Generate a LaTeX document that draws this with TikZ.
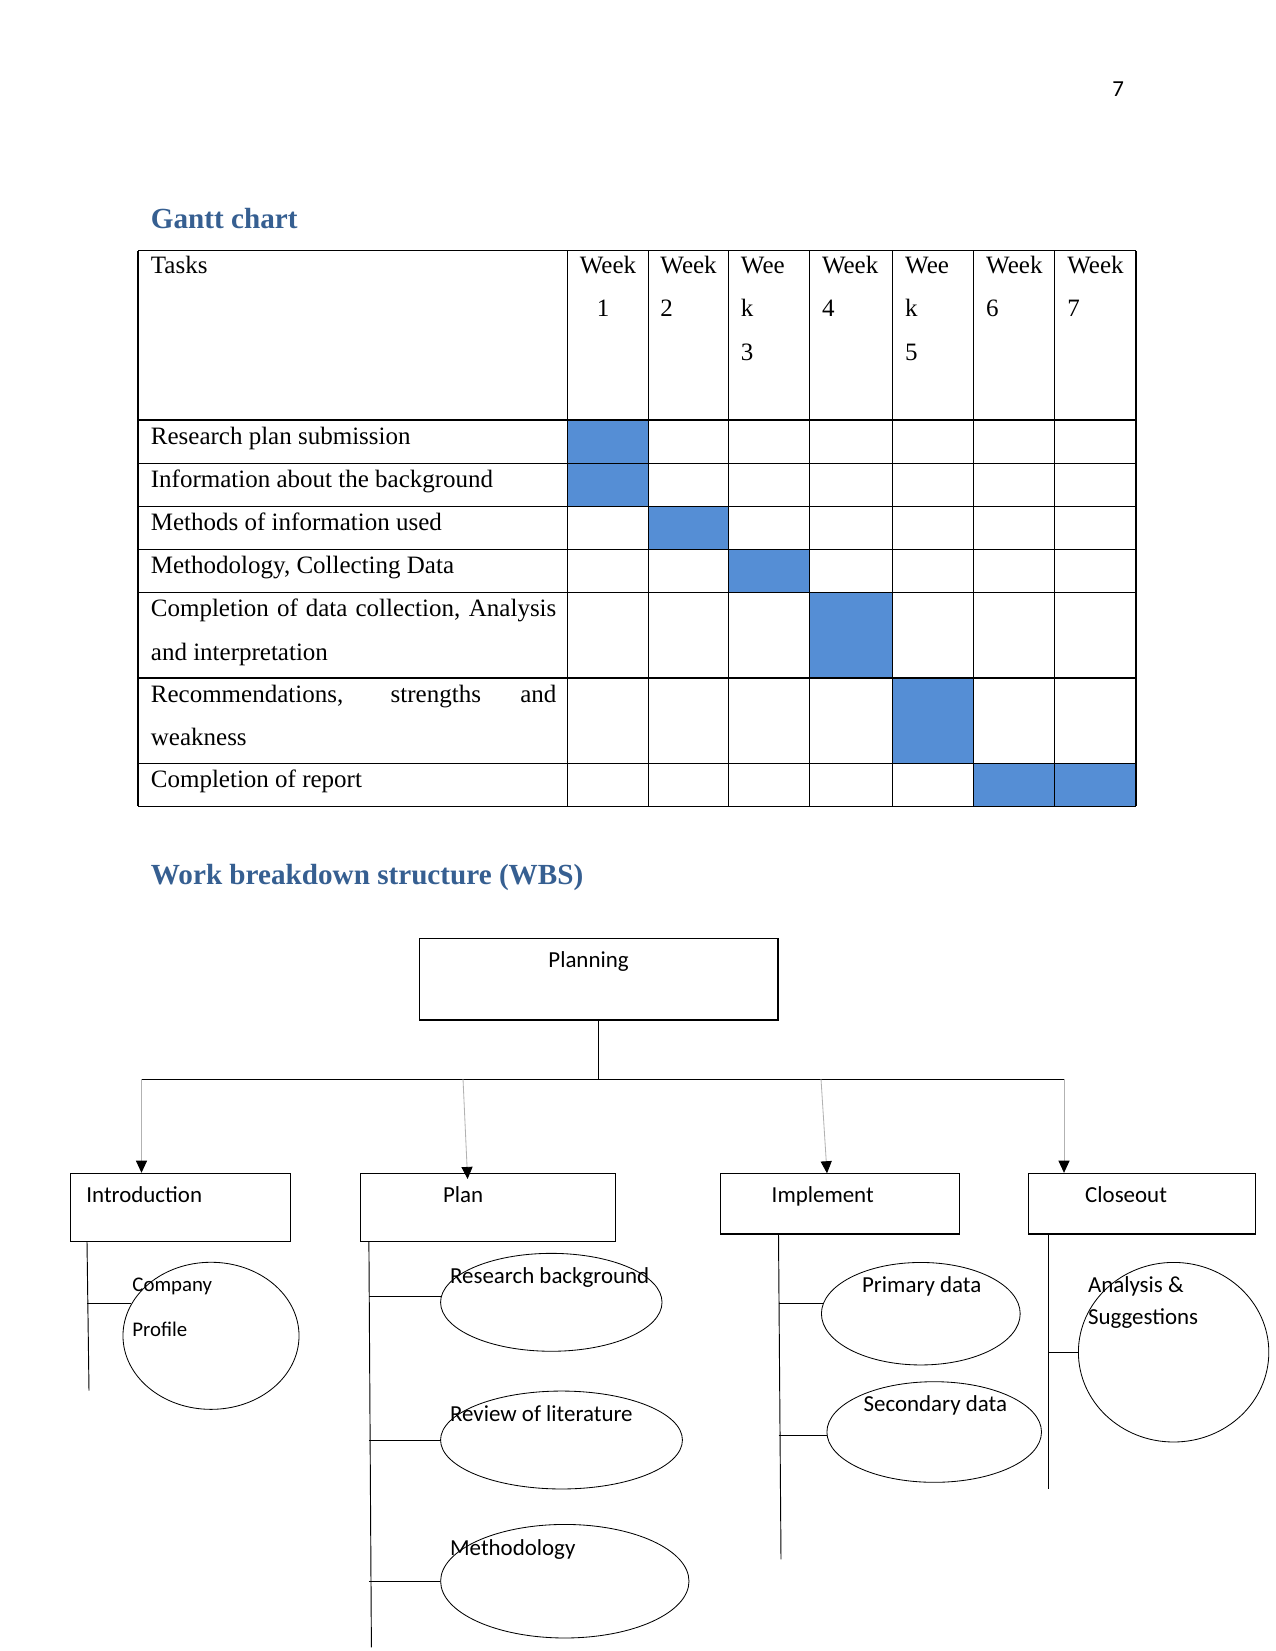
\documentclass[tikz,border=0pt]{standalone}
\usepackage{fontspec}
\setmainfont{Liberation Serif}
\newfontfamily\calibri{Carlito}
\usepackage{xcolor}
\usetikzlibrary{shapes.geometric,arrows.meta,positioning,calc}
\definecolor{headblue}{RGB}{54,95,145}
\definecolor{barblue}{RGB}{85,142,213}

\begin{document}
\begin{tikzpicture}[x=0.48pt, y=-0.48pt,
    task/.style={anchor=base west, inner sep=0pt, font=\fontsize{12}{14}\selectfont},
    heading/.style={anchor=base west, inner sep=0pt, text=headblue, font=\fontsize{14}{17}\selectfont\bfseries},
    grid_line/.style={line width=0.55pt},
    wbs_box/.style={draw, rectangle, line width=0.55pt, inner sep=0pt},
    wbs_text/.style={anchor=base west, inner sep=0pt, font=\calibri\fontsize{11}{13}\selectfont},
    leaf/.style={draw, ellipse, line width=0.4pt, inner sep=0pt},
    link/.style={line width=0.45pt},
    arrow/.style={draw=gray!60, line width=0.4pt, -{Triangle[length=5.8pt, width=5.3pt, color=black]}}
]
\useasboundingbox (0,0) rectangle (1275,1651);

\node[wbs_text] (pagenum) at (1112,97) {7};

% Gantt chart
\node[heading] (gantttitle) at (150.5,228) {Gantt chart};

\fill[barblue] (567.5,420) rectangle (648.5,506.4);
\fill[barblue] (648.5,506.4) rectangle (728.5,549.6);
\fill[barblue] (728.5,549.6) rectangle (809.6,592.7);
\fill[barblue] (809.6,592.7) rectangle (892.8,678);
\fill[barblue] (892.8,678) rectangle (973.8,763.3);
\fill[barblue] (973.8,763.3) rectangle (1136,806.4);

\foreach \x in {138,567.5,648.5,728.5,809.6,892.8,973.8,1054.9,1136}
    \draw[grid_line] (\x,250.6) -- (\x,806.4);
\foreach \y in {250.6,420,463.2,506.4,549.6,592.7,678,763.3,806.4}
    \draw[grid_line] (138,\y) -- (1136,\y);

\node[task] (tasks) at (150.5,273.5) {Tasks};
\node[task, anchor=base] (week1) at (608,273.5) {Week};
\node[task, anchor=base] (num1) at (603,316.8) {1};
\foreach \x/\n in {660/2, 821.6/4, 985.8/6, 1066.9/7} {
    \node[task] (week\n) at (\x,273.5) {Week};
    \node[task] (num\n) at (\x,316.8) {\n};
}
\foreach \x/\n in {740.5/3, 904.8/5} {
    \node[task] (week\n) at (\x,273.5) {Wee};
    \node[task] (k\n) at (\x,316.8) {k};
    \node[task] (num\n) at (\x,360) {\n};
}

\node[task] (task1) at (150.5,444) {Research plan submission};
\node[task] (task2) at (150.5,487.2) {Information about the background};
\node[task] (task3) at (150.5,530.4) {Methods of information used};
\node[task] (task4) at (150.5,573.6) {Methodology, Collecting Data};
\node[task] (task5a) at (150.5,616.7) {\makebox[194.6pt][s]{Completion of data collection, Analysis}};
\node[task] (task5b) at (150.5,660) {and interpretation};
\node[task] (task6a) at (150.5,702) {\makebox[194.6pt][s]{Recommendations, strengths and}};
\node[task] (task6b) at (150.5,745.3) {weakness};
\node[task] (task7) at (150.5,787.3) {Completion of report};

% WBS
\node[heading] (wbstitle) at (150.5,884) {Work breakdown structure (WBS)};

\node[wbs_box, minimum width=172.1pt, minimum height=39.2pt] (planning) at (598.7,979.2) {};
\node[wbs_box, minimum width=105.6pt, minimum height=32.6pt] (intro) at (180.5,1207.3) {};
\node[wbs_box, minimum width=122.4pt, minimum height=32.6pt] (plan) at (487.9,1207.3) {};
\node[wbs_box, minimum width=114.8pt, minimum height=29.1pt] (implement) at (839.8,1203.7) {};
\node[wbs_box, minimum width=108.9pt, minimum height=29.1pt] (closeout) at (1141.9,1203.7) {};

\node[wbs_text] (planningtxt) at (548,967.3) {Planning};
\node[wbs_text] (introtxt) at (86,1202.5) {Introduction};
\node[wbs_text] (plantxt) at (442.7,1202.5) {Plan};
\node[wbs_text] (implementtxt) at (771.3,1202.7) {Implement};
\node[wbs_text] (closeouttxt) at (1084.8,1202.7) {Closeout};

\coordinate (hub) at (598.7,1079);
\coordinate (hl) at (141.5,1079);
\coordinate (hr) at (1064,1079);
\draw[link] (planning.south) -- (hub);
\draw[link] (hl) -- (hr);

\coordinate (a2) at (463,1079);
\coordinate (a2e) at (467.6,1179);
\coordinate (a3) at (821,1079);
\coordinate (a3e) at (827,1173.3);
\draw[arrow] (hl) -- (hl |- intro.north);
\draw[arrow] (a2) -- (a2e);
\draw[arrow] (a3) -- (a3e);
\draw[arrow] (hr) -- (hr |- closeout.north);

% leaves
\node[leaf, minimum width=84.5pt, minimum height=70.6pt] (cp) at (211,1335.8) {};
\node[leaf, minimum width=106.3pt, minimum height=47pt] (rb) at (551.3,1302.3) {};
\node[leaf, minimum width=116.1pt, minimum height=47pt] (rl) at (561.5,1440) {};
\node[leaf, minimum width=119.2pt, minimum height=54.5pt] (me) at (564.8,1581.2) {};
\node[leaf, minimum width=95.4pt, minimum height=49.2pt] (pd) at (920.8,1313.7) {};
\node[leaf, minimum width=103pt, minimum height=48.3pt] (sd) at (934.2,1432) {};
\node[leaf, minimum width=91.4pt, minimum height=86.2pt] (as) at (1173.6,1352.2) {};

\node[wbs_text, font=\calibri\fontsize{10}{12}\selectfont] (cptxt1) at (132,1291.7) {Company};
\node[wbs_text, font=\calibri\fontsize{10}{12}\selectfont] (cptxt2) at (132,1336.7) {Profile};
\node[wbs_text] (rbtxt) at (449.7,1283.3) {Research background};
\node[wbs_text] (rltxt) at (449.7,1421.7) {Review of literature};
\node[wbs_text] (metxt) at (449.7,1555) {Methodology};
\node[wbs_text] (pdtxt) at (861.7,1292.7) {Primary data};
\node[wbs_text] (sdtxt) at (863.2,1411.7) {Secondary data};
\node[wbs_text] (astxt1) at (1087.6,1292.7) {Analysis \&};
\node[wbs_text] (astxt2) at (1087.6,1324.3) {Suggestions};

% spines
\coordinate (introtop) at (87,1241.3);
\coordinate (introbot) at (89,1390.7);
\coordinate (plantop) at (368.9,1241.3);
\coordinate (planbot) at (371.4,1647.3);
\coordinate (impltop) at (778.5,1234);
\coordinate (implbot) at (781,1559.3);
\coordinate (closetop) at (1048.4,1234);
\coordinate (closebot) at (1048.4,1489.3);
\draw[link] (introtop) -- (introbot);
\draw[link] (plantop) -- (planbot);
\draw[link] (impltop) -- (implbot);
\draw[link] (closetop) -- (closebot);

\draw[link] (introtop |- cp.158) -- (cp.158);
\draw[link] (plantop |- rb.177) -- (rb.177);
\draw[link] (plantop |- rl.west) -- (rl.west);
\draw[link] (plantop |- me.west) -- (me.west);
\draw[link] (impltop |- pd.174) -- (pd.174);
\draw[link] (impltop |- sd.182) -- (sd.182);
\draw[link] (closetop |- as.west) -- (as.west);

\end{tikzpicture}
\end{document}
